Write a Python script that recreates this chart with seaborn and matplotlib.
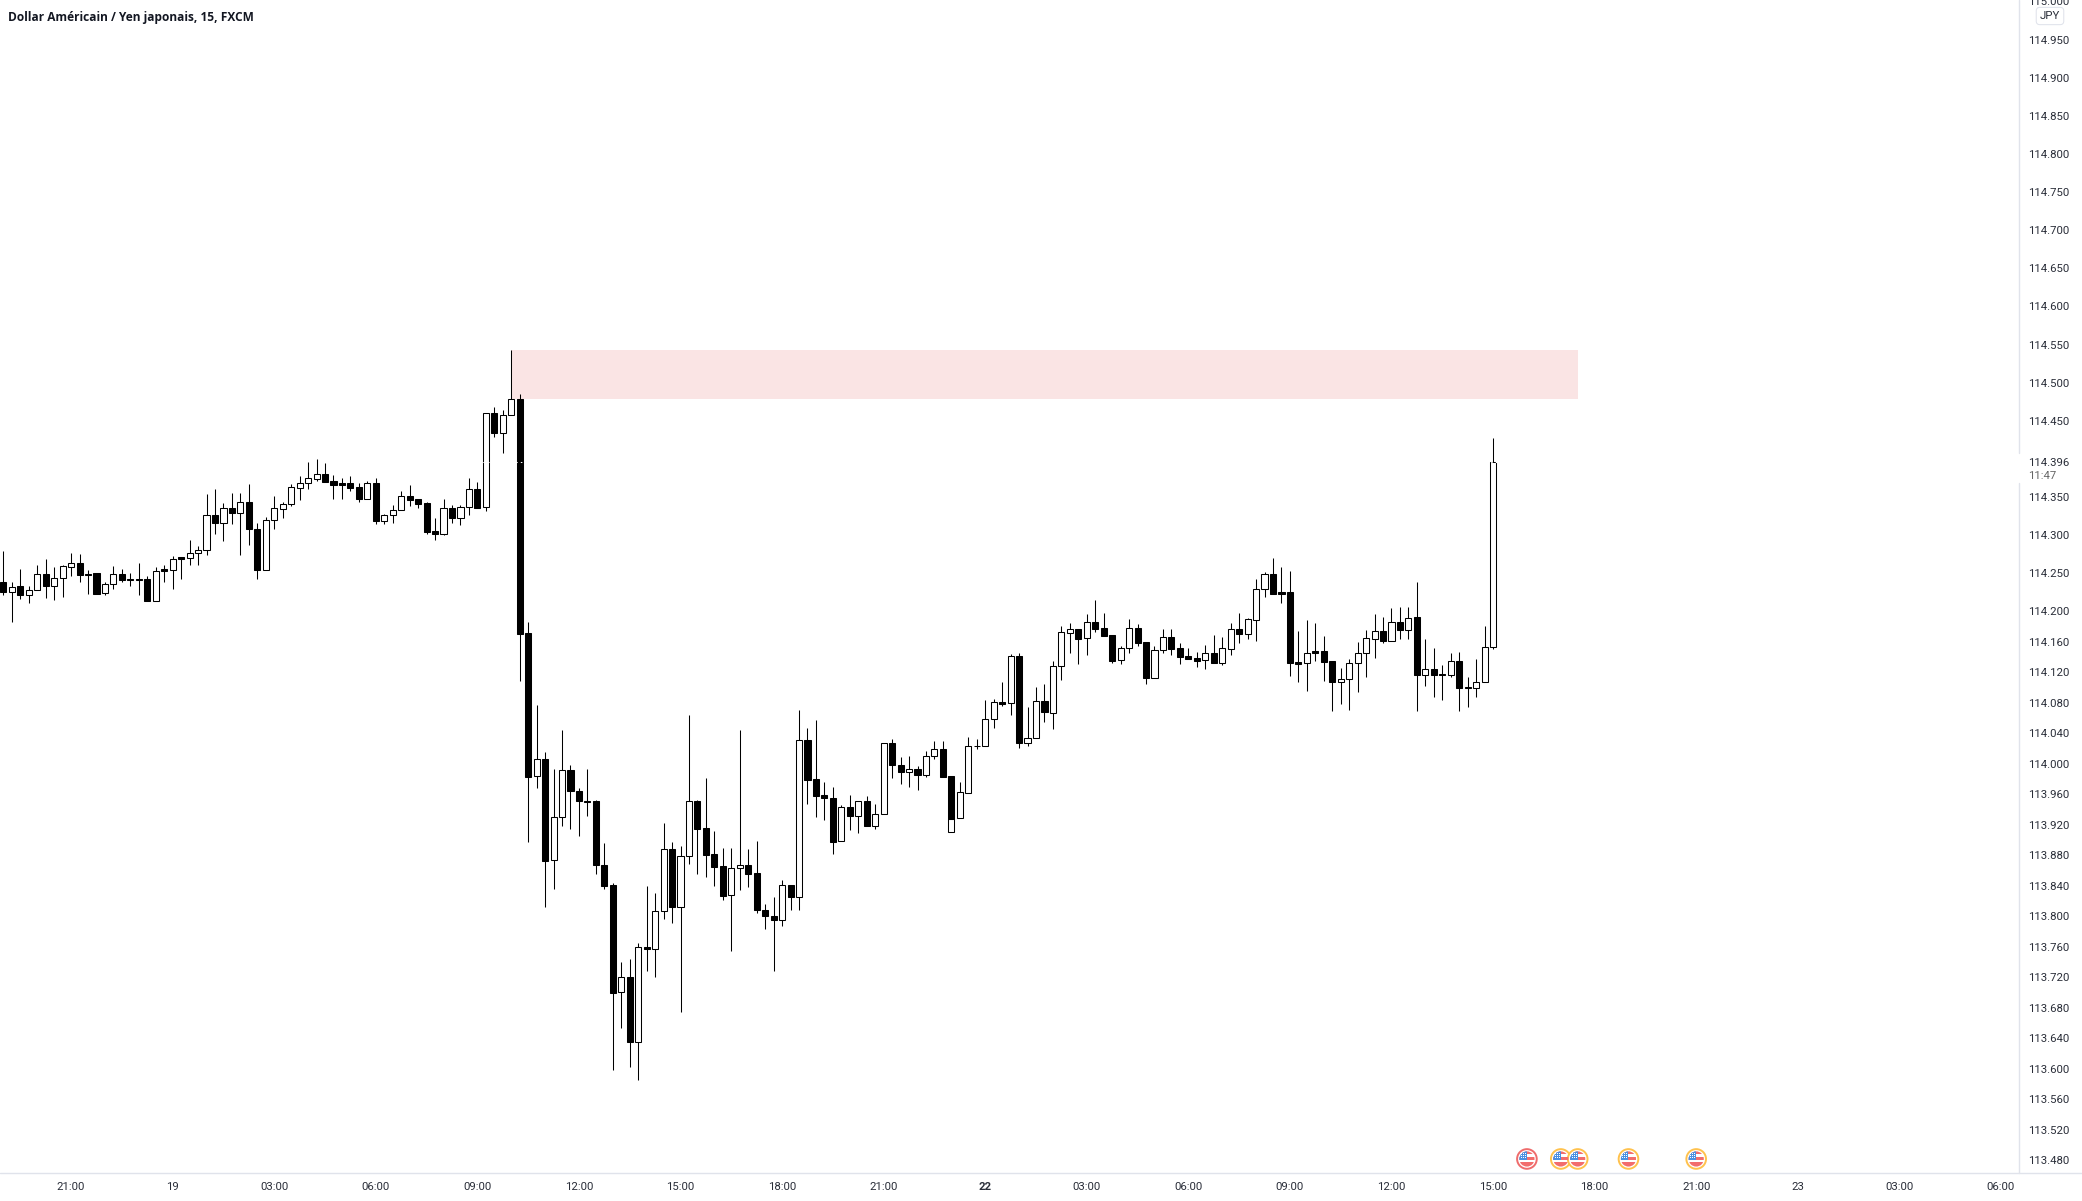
import numpy as np
import pandas as pd
import matplotlib
matplotlib.use('Agg')
import matplotlib.pyplot as plt
import seaborn as sns
from matplotlib.lines import Line2D
from matplotlib.patches import Rectangle, Circle
from matplotlib.transforms import IdentityTransform

opens = [
    114.238,114.226,114.233,114.222,114.228,114.249,114.234,114.244,114.258,114.263,
    114.249,114.250,114.224,114.236,114.249,114.242,114.243,114.243,114.214,114.255,
    114.254,114.271,114.270,114.276,114.281,114.327,114.316,114.336,114.329,114.344,
    114.308,114.254,114.320,114.334,114.341,114.362,114.369,114.374,114.380,114.371,
    114.368,114.368,114.363,114.347,114.368,114.318,114.326,114.333,114.352,114.347,
    114.342,114.306,114.302,114.336,114.322,114.337,114.360,114.337,114.460,114.434,
    114.457,114.478,114.172,113.984,114.006,113.874,113.931,113.992,113.964,113.952,
    113.951,113.868,113.841,113.701,113.720,113.635,113.760,113.757,113.807,113.888,
    113.812,113.879,113.951,113.916,113.882,113.866,113.828,113.863,113.867,113.857,
    113.808,113.800,113.796,113.841,113.826,114.032,113.980,113.959,113.955,113.899,
    113.944,113.932,113.951,113.919,113.934,114.028,113.999,113.989,113.993,113.985,
    114.010,114.019,113.984,113.929,113.962,114.024,114.024,114.059,114.081,114.080,
    114.142,114.028,114.034,114.083,114.067,114.129,114.172,114.177,114.165,114.186,
    114.178,114.169,114.136,114.152,114.178,114.160,114.113,114.149,114.167,114.152,
    114.142,114.139,114.136,114.146,114.133,114.151,114.177,114.171,114.189,114.230,
    114.249,114.226,114.226,114.134,114.132,114.148,114.148,114.135,114.108,114.111,
    114.133,114.145,114.164,114.175,114.161,114.186,114.176,114.193,114.117,114.125,
    114.118,114.117,114.135,114.101,114.100,114.108,114.153,
]
closes = [
    114.225,114.232,114.222,114.228,114.249,114.234,114.244,114.259,114.263,114.248,
    114.248,114.223,114.236,114.249,114.241,114.241,114.241,114.214,114.253,114.253,
    114.269,114.269,114.276,114.281,114.327,114.316,114.336,114.329,114.344,114.308,
    114.254,114.320,114.335,114.341,114.363,114.369,114.375,114.380,114.370,114.366,
    114.366,114.362,114.347,114.368,114.318,114.327,114.333,114.352,114.346,114.341,
    114.304,114.302,114.336,114.322,114.337,114.360,114.336,114.460,114.434,114.457,
    114.478,114.171,113.983,114.006,113.873,113.931,113.992,113.964,113.951,113.950,
    113.868,113.840,113.700,113.720,113.635,113.760,113.757,113.807,113.888,113.812,
    113.879,113.951,113.915,113.881,113.865,113.827,113.863,113.867,113.856,113.808,
    113.800,113.796,113.841,113.826,114.032,113.979,113.958,113.955,113.898,113.944,
    113.932,113.951,113.919,113.934,114.028,113.999,113.989,113.993,113.985,114.010,
    114.019,113.983,113.928,113.963,114.023,114.023,114.059,114.081,114.079,114.142,
    114.028,114.034,114.083,114.068,114.129,114.173,114.177,114.164,114.186,114.177,
    114.168,114.135,114.152,114.178,114.159,114.113,114.149,114.167,114.151,114.140,
    114.138,114.135,114.146,114.132,114.152,114.177,114.171,114.190,114.230,114.249,
    114.223,114.223,114.133,114.131,114.146,114.146,114.134,114.108,114.111,114.133,
    114.145,114.165,114.175,114.161,114.186,114.176,114.192,114.117,114.124,114.117,
    114.117,114.135,114.100,114.100,114.108,114.153,114.396,
]
highs = [
    114.279,114.238,114.255,114.233,114.261,114.269,114.258,114.261,114.277,114.275,
    114.254,114.250,114.238,114.259,114.255,114.251,114.263,114.247,114.258,114.261,
    114.273,114.271,114.294,114.286,114.354,114.360,114.342,114.355,114.355,114.367,
    114.316,114.324,114.351,114.344,114.367,114.378,114.396,114.400,114.395,114.379,
    114.375,114.378,114.368,114.371,114.375,114.328,114.340,114.358,114.366,114.348,
    114.344,114.323,114.347,114.340,114.340,114.375,114.370,114.460,114.468,114.464,
    114.543,114.485,114.186,114.077,114.016,113.994,114.045,113.999,113.969,113.993,
    113.953,113.896,113.844,113.740,113.744,113.765,113.840,113.831,113.923,113.898,
    113.893,114.064,113.953,113.982,113.912,113.890,113.890,114.045,113.889,113.899,
    113.816,113.826,113.848,113.841,114.071,114.047,114.058,113.976,113.970,113.946,
    113.959,113.951,113.958,113.947,114.028,114.033,114.009,114.010,113.997,114.017,
    114.030,114.030,113.984,113.976,114.035,114.033,114.084,114.085,114.107,114.144,
    114.146,114.075,114.101,114.105,114.135,114.181,114.185,114.177,114.197,114.215,
    114.198,114.169,114.155,114.190,114.184,114.160,114.155,114.177,114.177,114.159,
    114.152,114.147,114.156,114.169,114.167,114.185,114.198,114.191,114.243,114.252,
    114.270,114.258,114.253,114.174,114.189,114.185,114.168,114.135,114.126,114.138,
    114.160,114.176,114.197,114.193,114.205,114.206,114.206,114.239,114.164,114.152,
    114.130,114.146,114.147,114.114,114.138,114.181,114.427,
]
lows = [
    114.221,114.186,114.216,114.211,114.228,114.217,114.215,114.219,114.247,114.238,
    114.223,114.223,114.222,114.229,114.238,114.234,114.221,114.214,114.214,114.238,
    114.229,114.242,114.261,114.261,114.274,114.302,114.292,114.315,114.274,114.287,
    114.243,114.254,114.308,114.323,114.338,114.346,114.360,114.371,114.370,114.348,
    114.347,114.358,114.343,114.347,114.315,114.315,114.316,114.333,114.338,114.336,
    114.302,114.294,114.300,114.316,114.314,114.327,114.336,114.332,114.429,114.408,
    114.457,114.109,113.898,113.968,113.812,113.836,113.918,113.915,113.906,113.932,
    113.856,113.836,113.599,113.654,113.602,113.586,113.729,113.720,113.797,113.792,
    113.675,113.869,113.856,113.852,113.840,113.822,113.755,113.835,113.838,113.805,
    113.783,113.728,113.788,113.808,113.809,113.947,113.930,113.926,113.882,113.899,
    113.913,113.909,113.918,113.915,113.934,113.982,113.974,113.970,113.966,113.983,
    114.007,113.983,113.928,113.929,113.962,114.020,114.024,114.047,114.076,114.064,
    114.021,114.023,114.034,114.055,114.046,114.110,114.146,114.131,114.143,114.173,
    114.168,114.132,114.131,114.146,114.155,114.105,114.113,114.146,114.143,114.131,
    114.138,114.127,114.125,114.132,114.130,114.143,114.159,114.164,114.161,114.219,
    114.223,114.211,114.115,114.108,114.096,114.135,114.109,114.070,114.079,114.071,
    114.094,114.114,114.139,114.159,114.161,114.164,114.164,114.070,114.102,114.088,
    114.084,114.114,114.070,114.075,114.088,114.108,114.151,
]

# hollow stub that shows under the black bar at this slot
stub_idx = [112]
stub_open = [113.911]
stub_close = [113.928]

last_price = 114.396

price_ticks = [115.000,114.950,114.900,114.850,114.800,114.750,114.700,114.650,114.600,114.550,
               114.500,114.450,114.396,114.350,114.300,114.250,114.200,114.160,114.120,114.080,
               114.040,114.000,113.960,113.920,113.880,113.840,113.800,113.760,113.720,113.680,
               113.640,113.600,113.560,113.520,113.480]
time_idx = [8,20,32,44,56,68,80,92,104,116,128,140,152,164,176,188,200,212,224,236]
time_labels = ['21:00','19','03:00','06:00','09:00','12:00','15:00','18:00','21:00','22',
               '03:00','06:00','09:00','12:00','15:00','18:00','21:00','23','03:00','06:00']

zone_start, zone_end = 60, 186
zone_low, zone_high = 114.478, 114.543

event_idx = [180,184,186,192,200]
event_price = [113.482,113.482,113.482,113.482,113.482]
event_ring = ['#ef6c6c','#ffc24d','#ffc24d','#ffc24d','#ffc24d']

W, H = 2082, 1201
AX_RIGHT, AX_BOTTOM = 2018.5, 1173
INK = '#2a2e39'
AXIS_GREY = '#e0e3eb'

sns.set_theme(style='white')
plt.rcParams['font.family'] = ['Roboto', 'DejaVu Sans']

df = pd.DataFrame({'idx': np.arange(len(opens)), 'open': opens, 'high': highs, 'low': lows, 'close': closes})
df['bottom'] = df[['open', 'close']].min(axis=1)
df['body'] = (df['close'] - df['open']).abs()
stubs = pd.DataFrame({'idx': stub_idx, 'bottom': stub_open, 'body': np.array(stub_close) - np.array(stub_open)})
up = pd.concat([df.loc[df['close'] > df['open'], ['idx', 'bottom', 'body']], stubs]).sort_values('idx')
down = df.loc[df['close'] <= df['open']].sort_values('idx')

fig = plt.figure(figsize=(W / 100, H / 100), dpi=100, facecolor='white')
ax = fig.add_axes([0, 1 - AX_BOTTOM / H, AX_RIGHT / W, AX_BOTTOM / H])

ax.add_patch(Rectangle((zone_start, zone_low), zone_end - zone_start, zone_high - zone_low,
                       facecolor='#fae4e4', edgecolor='none', zorder=0.2))
wicks = ax.vlines(df['idx'], df['low'], df['high'], color='black', linewidth=0.75, zorder=0.5)
wicks.set_snap(True)

for frame, colour in [(up, 'white'), (down, 'black')]:
    sns.barplot(data=frame, x='idx', y='body', bottom=frame['bottom'].values, native_scale=True,
                errorbar=None, color=colour, saturation=1, width=0.72, edgecolor='black',
                linewidth=0.75, zorder=2 if colour == 'black' else 1.5, ax=ax)

# price line only shows where it crosses a black body
ax.axhline(last_price, color='white', linewidth=0.75, linestyle=(0, (1.5, 3)), zorder=3)

ax.set_xlim(-0.402, 238.08)
ax.set_ylim(113.4636, 115.0018)
ax.set_xlabel('')
ax.set_ylabel('')
for s in ax.spines.values():
    s.set_visible(False)

ax.yaxis.tick_right()
ax.set_yticks(price_ticks)
ax.set_yticklabels(['%.3f' % p for p in price_ticks])
ax.set_xticks(time_idx)
ax.set_xticklabels(time_labels)
ax.tick_params(axis='y', length=0, pad=7.0, labelsize=8.2, labelcolor=INK)
ax.tick_params(axis='x', length=0, pad=6.3, labelsize=8.2, labelcolor=INK)
ax.get_xticklabels()[time_labels.index('22')].set_fontweight('bold')
for lab in ax.get_yticklabels():
    lab.set_verticalalignment('center_baseline')

# axis rules, the right one breaks around the last price label
for x0, y0, x1, y1 in [(AX_RIGHT, 0, AX_RIGHT, 453), (AX_RIGHT, 483, AX_RIGHT, AX_BOTTOM), (0, AX_BOTTOM, W, AX_BOTTOM)]:
    fig.add_artist(Line2D([x0 / W, x1 / W], [1 - y0 / H, 1 - y1 / H], color=AXIS_GREY, linewidth=1.0))

# event markers
sns.scatterplot(x=event_idx, y=event_price, s=200, color='white', edgecolor=event_ring, linewidth=1.4,
                zorder=4, clip_on=False, ax=ax)
for i, p in zip(event_idx, event_price):
    cx, cy = ax.transData.transform((i, p))
    clip = Circle((cx, cy), 7.6, transform=IdentityTransform())
    for top, bot in [(8, 4.5), (2, -1), (-3.5, -8)]:
        r = Rectangle((cx - 8, cy + bot), 16, top - bot, facecolor='#f26d6d', edgecolor='none',
                      transform=IdentityTransform(), zorder=5)
        ax.add_patch(r)
        r.set_clip_path(clip)
    r = Rectangle((cx - 8, cy - 1), 8, 9, facecolor='#4a90e2', edgecolor='none',
                  transform=IdentityTransform(), zorder=6)
    ax.add_patch(r)
    r.set_clip_path(clip)
    for dx in (-6, -4, -2):
        for dy in (1, 3, 5):
            ax.add_patch(Rectangle((cx + dx, cy + dy), 1, 1, facecolor='white', edgecolor='none',
                                   transform=IdentityTransform(), zorder=7))

fig.text(8 / W, 1 - 17 / H, 'Dollar Américain / Yen japonais, 15, FXCM', fontsize=8.6, color='#131722',
         family=['Open Sans', 'DejaVu Sans'], fontweight='bold', va='center', ha='left')
fig.text(2028 / W, 1 - 476 / H, '11:47', fontsize=8.2, color='#666666', va='center', ha='left')
fig.text(2050 / W, 1 - 16 / H, 'JPY', fontsize=8.2, color=INK, va='center', ha='center',
         bbox=dict(boxstyle='round,pad=0.32', facecolor='white', edgecolor=AXIS_GREY, linewidth=0.75))

fig.savefig('out.png', dpi=100, facecolor='white')
